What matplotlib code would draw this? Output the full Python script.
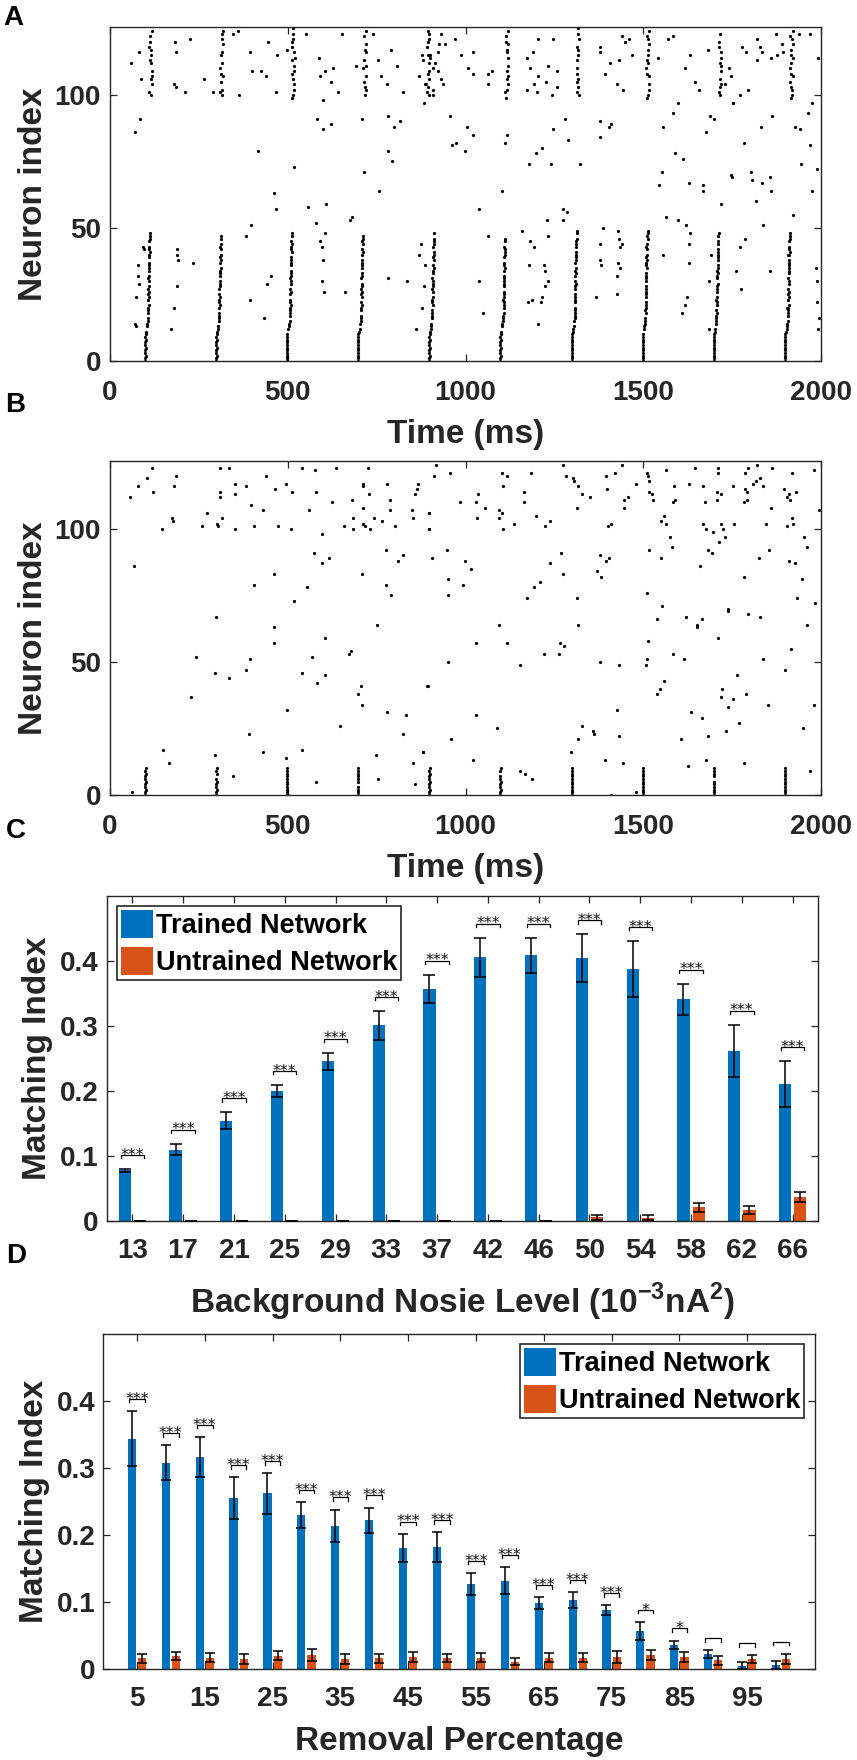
import numpy as np
import matplotlib
matplotlib.use("Agg")
import matplotlib.pyplot as plt
import matplotlib.transforms as mtransforms

plt.rcParams['font.family'] = ['Liberation Sans', 'DejaVu Sans']
plt.rcParams['font.weight'] = 'bold'
plt.rcParams['axes.labelweight'] = 'bold'
plt.rcParams['mathtext.fontset'] = 'custom'
plt.rcParams['mathtext.bf'] = 'Liberation Sans:bold'
plt.rcParams['mathtext.rm'] = 'Liberation Sans:bold'

AXC = '#262626'
BLUE = '#0072BD'
ORANGE = '#D95319'

# ---------------- raster data ----------------
burst_times = [99, 299, 498, 698, 898, 1098, 1299, 1498, 1698, 1899]
# latency (ms) of lower-population neurons 0..49 after each burst onset
lower_latency = [0, 0, 1, 0, 0, 1, 0, 0, 1, 0, 1,
                 3, 4, 5, 6, 7, 8, 8, 9, 8, 9,
                 10, 9, 8, 10, 9, 10, 9, 10, 11, 10,
                 9, 10, 11, 10, 12, 11, 10, 12, 11, 12,
                 13, 12, 11, 13, 12, 14, 13, 14, 15]
lower_top_A = [48, 47, 48, 47, 48, 46, 49, 49, 48, 48]
lower_missing_A = [[12, 17, 22, 29, 33, 38, 44],
                   [14, 19, 26, 31, 36, 41, 45],
                   [11, 16, 24, 28, 35, 40, 46],
                   [13, 18, 23, 30, 34, 39, 43],
                   [15, 20, 25, 32, 37, 42, 47],
                   [12, 19, 27, 33, 38, 44],
                   [14, 21, 26, 31, 36, 42, 47],
                   [11, 17, 23, 29, 34, 41, 45],
                   [13, 20, 25, 30, 37, 43, 46],
                   [16, 22, 28, 32, 39, 44]]
# latency of upper-population neurons 99..125
upper_latency = [14, 17, 12, 18, 15, 19, 13, 16, 20, 14, 18, 12, 19, 16,
                 13, 20, 15, 18, 16, 12, 19, 14, 17, 13, 16, 20, 15]
upper_shift_A = [0, -1, 1, 3, -18, 2, 2, -1, 2, 2]
upper_members_A = [[100, 101, 104, 106, 107, 109, 112, 113, 115, 117, 118, 120, 122, 124],
                   [100, 101, 102, 105, 107, 108, 110, 112, 115, 116, 119, 121, 123, 124],
                   [99, 100, 102, 104, 106, 108, 109, 111, 113, 114, 116, 118, 120, 121, 123, 125],
                   [100, 102, 103, 105, 107, 110, 111, 113, 116, 117, 119, 122, 124],
                   [100, 101, 103, 106, 108, 109, 112, 114, 115, 118, 120, 121, 123],
                   [99, 101, 102, 104, 106, 107, 109, 111, 114, 116, 117, 119, 120, 122, 124],
                   [100, 101, 103, 105, 106, 108, 110, 113, 115, 117, 118, 121, 123, 125],
                   [99, 100, 102, 104, 107, 108, 110, 112, 113, 115, 117, 119, 121, 122, 124],
                   [100, 101, 103, 104, 106, 109, 111, 112, 114, 116, 118, 120, 123],
                   [99, 100, 102, 103, 105, 107, 108, 110, 112, 114, 115, 117, 119, 121, 122, 124]]

# scattered spikes in panel A (time ms, neuron)
scatter_A = [
    (70, 86), (84, 91), (58, 112), (81, 116), (86, 106), (415, 79), (518, 73), (462, 63), (467, 57),
    (557, 58), (609, 59), (579, 52), (675, 53), (680, 54), (397, 51), (382, 47), (758, 64), (715, 71),
    (781, 79), (794, 75), (781, 92), (800, 88), (816, 90), (708, 91), (581, 91), (598, 87), (622, 89),
    (598, 98), (883, 97),
    (452, 32), (441, 29), (434, 16), (394, 23), (234, 37), (188, 42), (189, 40), (190, 38), (188, 28),
    (181, 20), (171, 12), (590, 45), (595, 43), (598, 38), (601, 26), (596, 30), (604, 48), (661, 26),
    (782, 31), (836, 30), (862, 12), (70, 14), (74, 13), (72, 24), (80, 36), (80, 32), (82, 29),
    (93, 43), (95, 42), (876, 44), (879, 20), (883, 28), (885, 36), (870, 40),
    (184, 120), (185, 116), (180, 104), (185, 103), (211, 101), (225, 121), (264, 106), (291, 101),
    (360, 124), (347, 123), (362, 100), (394, 116), (400, 109), (424, 109), (438, 107), (445, 120),
    (467, 101), (469, 115), (499, 117), (551, 123), (589, 114), (591, 107), (605, 109), (628, 110),
    (622, 105), (640, 101), (654, 123), (691, 111), (741, 123), (754, 113), (762, 107), (790, 117),
    (806, 111), (778, 104), (825, 101), (870, 107), (879, 115), (889, 104),
    (956, 92), (1003, 88), (1020, 85), (961, 81), (972, 82), (998, 79), (1118, 85), (1111, 82),
    (1102, 64), (1038, 57), (1198, 78), (1214, 80), (1180, 74), (1240, 74), (1322, 74), (1247, 87),
    (1280, 91), (1287, 83), (1275, 57), (1285, 56), (1230, 53), (1275, 53), (1378, 90), (1405, 88),
    (1408, 89), (1378, 84), (1556, 88), (1584, 93), (1597, 97), (1589, 78), (1613, 76), (1554, 71),
    (1544, 66), (1629, 67), (1668, 66), (1668, 64), (1688, 92), (1700, 91), (1677, 86), (1720, 59),
    (1564, 54), (1597, 53), (1619, 51), (1746, 70), (1749, 69), (1803, 71), (1806, 68), (1835, 67),
    (1857, 69), (1858, 64), (1816, 60), (1838, 51), (1783, 82), (1830, 88), (1863, 92), (1927, 88),
    (1941, 87), (1964, 93), (1969, 81), (1944, 74), (1990, 72), (1974, 64), (1922, 55), (1976, 97),
    (1753, 97),
    (1158, 49), (1064, 47), (1386, 50), (1038, 30), (1050, 18), (1857, 34), (1774, 27), (1761, 34),
    (1772, 43), (1786, 46), (1556, 40), (1630, 37), (1630, 44), (1631, 48), (1610, 18), (1617, 21),
    (1622, 24), (1367, 24), (1425, 25), (1378, 44), (1378, 38), (1380, 36), (1430, 49), (1432, 46),
    (1436, 43), (1440, 44), (1428, 37), (1427, 32), (1434, 35), (1175, 22), (1187, 23), (1215, 24),
    (1213, 22), (1203, 14), (1181, 45), (1193, 43), (1233, 47), (1180, 36), (1222, 36), (1225, 34),
    (1233, 30), (1225, 28), (1987, 35), (1990, 30), (1988, 22), (1992, 12), (1994, 16),
    (1684, 30), (1686, 12), (1690, 40), (1905, 20), (1908, 40),
    (881, 113), (900, 115), (914, 112), (924, 116), (909, 110), (924, 109), (930, 106), (936, 104),
    (886, 104), (909, 102), (909, 100), (895, 124), (930, 123), (925, 119), (942, 119), (970, 121),
    (986, 115), (1022, 116), (1008, 110), (1020, 108), (1064, 108), (1074, 109), (1064, 104),
    (1174, 114), (1189, 116), (1181, 110), (1174, 102), (1202, 101), (1205, 107), (1193, 104),
    (1233, 111), (1226, 105), (1256, 109), (1256, 103), (1242, 100), (1245, 121), (1205, 121),
    (1377, 118), (1377, 116), (1406, 112), (1391, 108), (1432, 113), (1425, 104), (1442, 102),
    (1439, 122), (1449, 120), (1461, 121), (1469, 115),
    (1542, 114), (1571, 121), (1585, 122), (1617, 110), (1632, 115), (1646, 105), (1658, 102),
    (1683, 117), (1753, 97), (1772, 100), (1794, 102), (1777, 118), (1789, 116), (1819, 121),
    (1819, 113), (1828, 118), (1833, 116), (1859, 114), (1873, 123), (1877, 115), (1891, 119),
    (1892, 116), (1938, 123), (1969, 123), (1992, 114), (1740, 110), (1730, 104), (1748, 107)]

# panel B: only neurons 0..10 keep bursting
lower_top_B = [10, 10, 10, 10, 10, 10, 10, 10, 10, 10]
lower_missing_B = [[], [7], [], [4], [], [8], [], [], [6], []]

scatter_B = [
    (917, 124), (912, 120), (956, 121), (898, 106), (898, 100), (907, 89), (947, 92), (952, 81),
    (950, 75), (985, 110), (1030, 110), (1036, 113), (1033, 104), (1055, 108), (1094, 107),
    (1104, 106), (1095, 104), (1106, 100), (1104, 121), (1118, 120), (1106, 116), (1136, 102),
    (1165, 114), (1165, 110), (1183, 121), (1197, 105), (1224, 101), (1238, 103), (999, 88),
    (1015, 85), (992, 79), (1095, 64), (1029, 57), (1118, 57), (950, 50), (893, 41), (1030, 30),
    (1090, 25), (959, 21), (880, 16), (1022, 13), (1153, 49), (1172, 74), (1194, 78), (1210, 80),
    (1238, 87), (1270, 91), (1273, 83), (1221, 53), (1264, 53), (1266, 57), (1277, 56), (1273, 124),
    (1282, 120), (1303, 119), (1306, 118), (1317, 116), (1329, 113), (1350, 112), (1315, 108),
    (1313, 74), (1317, 64), (1327, 26), (1317, 21), (1360, 24), (1361, 23), (1296, 16), (1153, 9),
    (1167, 8), (1186, 6), (1395, 120), (1421, 121), (1441, 124), (1399, 115), (1446, 111),
    (1458, 112), (1447, 108), (1402, 101), (1408, 102), (1481, 117), (1377, 90), (1395, 88),
    (1405, 89), (1369, 84), (1380, 82), (1377, 50), (1432, 49), (1425, 32), (1432, 22), (1391, 13),
    (1444, 12), (1408, 0), (1481, 1), (1510, 121), (1512, 120), (1517, 118), (1516, 114), (1524, 113),
    (1527, 111), (1563, 122), (1587, 116), (1585, 110), (1589, 111), (1549, 103), (1563, 102),
    (1559, 105), (1575, 97), (1582, 93), (1516, 92), (1550, 89), (1510, 76), (1552, 71), (1540, 66),
    (1512, 58), (1510, 51), (1507, 49), (1585, 53), (1616, 51), (1558, 43), (1547, 40), (1538, 38),
    (1633, 31), (1664, 29), (1605, 21), (1627, 11), (1646, 123), (1630, 117), (1667, 116),
    (1674, 110), (1709, 123), (1709, 121), (1707, 114), (1719, 113), (1707, 111), (1667, 102),
    (1677, 100), (1697, 99), (1719, 102), (1725, 100), (1713, 95), (1730, 97), (1683, 92),
    (1694, 91), (1661, 86), (1753, 116), (1755, 102), (1786, 121), (1796, 123), (1821, 124),
    (1863, 123), (1786, 115), (1791, 114), (1782, 110), (1791, 111), (1808, 117), (1817, 118),
    (1828, 119), (1838, 116), (1858, 108), (1845, 102), (1855, 92), (1827, 89), (1782, 82),
    (1739, 70), (1739, 69), (1796, 68), (1828, 67), (1620, 67), (1650, 64), (1652, 63), (1664, 66),
    (1709, 59), (1836, 51), (1765, 45), (1721, 40), (1719, 37), (1752, 36), (1739, 33), (1788, 38),
    (1769, 27), (1733, 24), (1683, 22), (1677, 13), (1782, 12), (1852, 34), (1918, 121), (1897, 115),
    (1903, 112), (1910, 113), (1913, 111), (1930, 114), (1918, 104), (1922, 102), (1903, 101),
    (1952, 97), (1960, 93), (1911, 88), (1927, 87), (1946, 81), (1932, 74), (1983, 72), (1960, 64),
    (1915, 55), (1899, 47), (1981, 34), (1948, 25), (1969, 9), (1981, 122), (1993, 107),
    (56, 112), (78, 116), (104, 119), (117, 123), (122, 114), (68, 86), (145, 100), (173, 104),
    (176, 103), (185, 120), (180, 116), (258, 101), (272, 106), (302, 102), (303, 101), (309, 114),
    (309, 112), (309, 123), (336, 123), (316, 104), (352, 117), (352, 113), (352, 100), (382, 116),
    (398, 109), (405, 101), (429, 107), (438, 120), (464, 115), (472, 101), (495, 117), (511, 114),
    (508, 100), (539, 123), (577, 122), (580, 114), (560, 107), (635, 123), (624, 110), (659, 101),
    (680, 111), (684, 104), (683, 100), (711, 117), (711, 116), (711, 108), (713, 102), (717, 101),
    (727, 123), (729, 113), (731, 100), (744, 104), (764, 103), (778, 117), (788, 111), (788, 107),
    (802, 101), (849, 107), (851, 104), (858, 113), (863, 115), (867, 117), (897, 106), (897, 100),
    (596, 98), (575, 91), (596, 87), (616, 89), (462, 83), (405, 79), (553, 78), (518, 73), (708, 83),
    (775, 92), (809, 88), (825, 90), (775, 79), (790, 75), (750, 64), (298, 67), (461, 63), (461, 57),
    (605, 59), (673, 53), (678, 54), (242, 52), (394, 51), (569, 52), (295, 46), (336, 44), (383, 47),
    (539, 46), (583, 42), (605, 45), (228, 37), (499, 32), (705, 41), (699, 38), (708, 34), (778, 31),
    (832, 30), (647, 26), (392, 23), (825, 23), (894, 41), (150, 17), (167, 12), (294, 15), (431, 16),
    (494, 14), (541, 17), (747, 15), (853, 12), (881, 16), (61, 1), (347, 7), (579, 5), (755, 6),
    (858, 4)]


def burst_spikes(tops, missing, with_upper):
    ts, ns = [], []
    for k, t0 in enumerate(burst_times):
        for n in range(tops[k] + 1):
            if n in missing[k]:
                continue
            ts.append(t0 + lower_latency[n])
            ns.append(n)
        if with_upper:
            for n in upper_members_A[k]:
                ts.append(t0 + upper_latency[n - 99] + upper_shift_A[k])
                ns.append(n)
    return ts, ns


# ---------------- bar chart data ----------------
noise_levels = [13, 17, 21, 25, 29, 33, 37, 42, 46, 50, 54, 58, 62, 66]
c_trained = [0.078, 0.110, 0.154, 0.200, 0.246, 0.301, 0.357, 0.406, 0.409, 0.404, 0.388, 0.341, 0.262, 0.211]
c_trained_err = [0.002, 0.009, 0.013, 0.009, 0.013, 0.022, 0.022, 0.030, 0.027, 0.037, 0.043, 0.024, 0.040, 0.035]
c_untrained = [0, 0, 0, 0, 0, 0, 0, 0, 0, 0.006, 0.005, 0.021, 0.017, 0.037]
c_untrained_err = [0, 0, 0, 0, 0, 0, 0, 0, 0, 0.004, 0.004, 0.007, 0.006, 0.008]
c_sig = ['***'] * 14

removal_pct = [5, 10, 15, 20, 25, 30, 35, 40, 45, 50, 55, 60, 65, 70, 75, 80, 85, 90, 95, 100]
d_trained = [0.344, 0.308, 0.316, 0.255, 0.262, 0.230, 0.214, 0.222, 0.181, 0.182,
             0.127, 0.132, 0.098, 0.103, 0.088, 0.057, 0.036, 0.022, 0.005, 0.006]
d_trained_err = [0.041, 0.026, 0.030, 0.031, 0.030, 0.019, 0.024, 0.019, 0.021, 0.022,
                 0.016, 0.020, 0.009, 0.012, 0.007, 0.013, 0.0065, 0.006, 0.005, 0.006]
d_untrained = [0.016, 0.019, 0.017, 0.015, 0.020, 0.021, 0.015, 0.016, 0.018, 0.016,
               0.017, 0.011, 0.017, 0.017, 0.018, 0.021, 0.018, 0.013, 0.015, 0.015]
d_untrained_err = [0.007, 0.006, 0.007, 0.008, 0.007, 0.009, 0.007, 0.007, 0.007, 0.006,
                   0.007, 0.005, 0.0065, 0.0065, 0.0085, 0.0075, 0.0075, 0.0065, 0.0055, 0.0075]
d_sig = ['***'] * 15 + ['*', '*', '', '', '']

legend_labels = ['Trained Network', 'Untrained Network']

# ---------------- figure ----------------
W, H = 857, 1760
fig = plt.figure(figsize=(W / 100, H / 100), dpi=100)


def axes_px(left, top, right, bottom):
    return fig.add_axes([left / W, 1 - bottom / H, (right - left) / W, (bottom - top) / H])


def style(ax, xpad, ypad):
    for s in ax.spines.values():
        s.set_color(AXC)
        s.set_linewidth(1.0)
    ax.tick_params(direction='in', length=5, width=0.9, color=AXC, labelcolor=AXC,
                   labelsize=20, top=True, right=True)
    ax.tick_params(axis='x', pad=xpad)
    ax.tick_params(axis='y', pad=ypad)


def raster(ax, ts, ns, sc):
    ax.plot(ts, ns, 'o', ms=2.3, mew=0, color='k')
    ax.plot([p[0] for p in sc], [p[1] for p in sc], 'o', ms=2.3, mew=0, color='k')
    ax.set_xlim(0, 2000)
    ax.set_ylim(0, 125.5)
    ax.set_xticks([0, 500, 1000, 1500, 2000])
    ax.set_yticks([0, 50, 100])


axA = axes_px(110, 27, 821, 361)
tA, nA = burst_spikes(lower_top_A, lower_missing_A, True)
raster(axA, tA, nA, scatter_A)
style(axA, 14.0, 6.5)

axB = axes_px(110, 461, 821, 795)
tB, nB = burst_spikes(lower_top_B, lower_missing_B, False)
raster(axB, tB, nB, scatter_B)
style(axB, 14.0, 6.5)

for ax, yb in ((axA, -0.2464), (axB, -0.2446)):
    ax.set_xlabel('Time (ms)', fontsize=24, color=AXC, fontweight='bold')
    ax.xaxis.set_label_coords(0.5, yb)
    ax.xaxis.label.set_va('baseline')
    ax.set_ylabel('Neuron index', fontsize=24, color=AXC, fontweight='bold')
    ax.yaxis.set_label_coords(-0.096, 0.5)
    ax.yaxis.label.set_rotation_mode('anchor')
    ax.yaxis.label.set_va('baseline')


def bars(ax, x, tr, tre, un, une, sig, unit, cap, sig_off):
    x = np.asarray(x, dtype=float)
    off = 0.15 * unit
    wd = 0.24 * unit
    b1 = ax.bar(x - off, tr, wd, color=BLUE, zorder=2, label=legend_labels[0])
    b2 = ax.bar(x + off, un, wd, color=ORANGE, zorder=2, label=legend_labels[1])
    ax.errorbar(x - off, tr, yerr=tre, fmt='none', ecolor='k', elinewidth=1.1,
                capsize=cap, capthick=1.1, zorder=3)
    ax.errorbar(x + off, un, yerr=une, fmt='none', ecolor='k', elinewidth=1.1,
                capsize=cap, capthick=1.1, zorder=3)
    star_tr = mtransforms.offset_copy(ax.transData, fig=fig, y=-3.4, units='points')
    for i in range(len(x)):
        top = max(tr[i] + tre[i], un[i] + une[i]) + sig_off
        x0 = x[i] - 0.23 * unit
        x1 = x[i] + 0.23 * unit
        ax.plot([x0, x0, x1, x1], [top - 0.005, top, top, top - 0.005], color='k', lw=0.9,
                zorder=3, solid_joinstyle='miter')
        if sig[i]:
            ax.text(x[i], top, sig[i], ha='center', va='baseline', fontsize=11.5,
                    fontweight='normal', color='#111111', transform=star_tr,
                    family='DejaVu Sans')
    ax.set_ylim(0, 0.5)
    ax.set_yticks([0, 0.1, 0.2, 0.3, 0.4])
    ax.set_yticklabels(['0', '0.1', '0.2', '0.3', '0.4'])
    return b1, b2


LEG_KW = dict(borderaxespad=0, fontsize=19.5, frameon=True, fancybox=False, edgecolor=AXC,
              framealpha=1, handlelength=1.18, handleheight=1.2, handletextpad=0.1,
              labelspacing=0.3, borderpad=0.15)

axC = axes_px(107, 896, 818, 1221)
xc = np.arange(1, len(noise_levels) + 1)
bars(axC, xc, c_trained, c_trained_err, c_untrained, c_untrained_err, c_sig, 1.0, 4, 0.0215)
axC.set_xlim(0.5, len(noise_levels) + 0.5)
axC.set_xticks(xc)
axC.set_xticklabels([str(v) for v in noise_levels])
style(axC, 12.0, 6.0)
axC.set_xlabel(r'Background Nosie Level (10$^{\mathbf{-3}}$nA$^{\mathbf{2}}$)', fontsize=24,
               color=AXC, fontweight='bold')
axC.xaxis.set_label_coords(0.5, -0.284)
axC.xaxis.label.set_va('baseline')
axC.set_ylabel('Matching Index', fontsize=24, color=AXC, fontweight='bold')
axC.yaxis.set_label_coords(-0.0858, 0.5)
axC.yaxis.label.set_rotation_mode('anchor')
axC.yaxis.label.set_va('baseline')
legC = axC.legend(loc='upper left', bbox_to_anchor=(0.0141, 0.970), **LEG_KW)
legC.get_frame().set_linewidth(1.2)

axD = axes_px(103, 1334, 815, 1669)
bars(axD, removal_pct, d_trained, d_trained_err, d_untrained, d_untrained_err, d_sig, 5.0, 3.5, 0.018)
axD.set_xlim(0, 105)
axD.set_xticks(removal_pct[::2])
axD.set_xticklabels([str(v) for v in removal_pct[::2]])
style(axD, 12.5, 5.5)
axD.set_xlabel('Removal Percentage', fontsize=24, color=AXC, fontweight='bold')
axD.xaxis.set_label_coords(0.5, -0.2418)
axD.xaxis.label.set_va('baseline')
axD.set_ylabel('Matching Index', fontsize=24, color=AXC, fontweight='bold')
axD.yaxis.set_label_coords(-0.0838, 0.5)
axD.yaxis.label.set_rotation_mode('anchor')
axD.yaxis.label.set_va('baseline')
legD = axD.legend(loc='upper right', bbox_to_anchor=(0.9846, 0.970), **LEG_KW)
legD.get_frame().set_linewidth(1.2)

for letter, xb, yb in (('A', 3, 25), ('B', 5, 411.5), ('C', 6, 838), ('D', 6.5, 1263)):
    fig.text(xb / W, 1 - yb / H, letter, fontsize=20, fontweight='bold', color='k',
             ha='left', va='baseline')

fig.savefig('out.png', dpi=100)
